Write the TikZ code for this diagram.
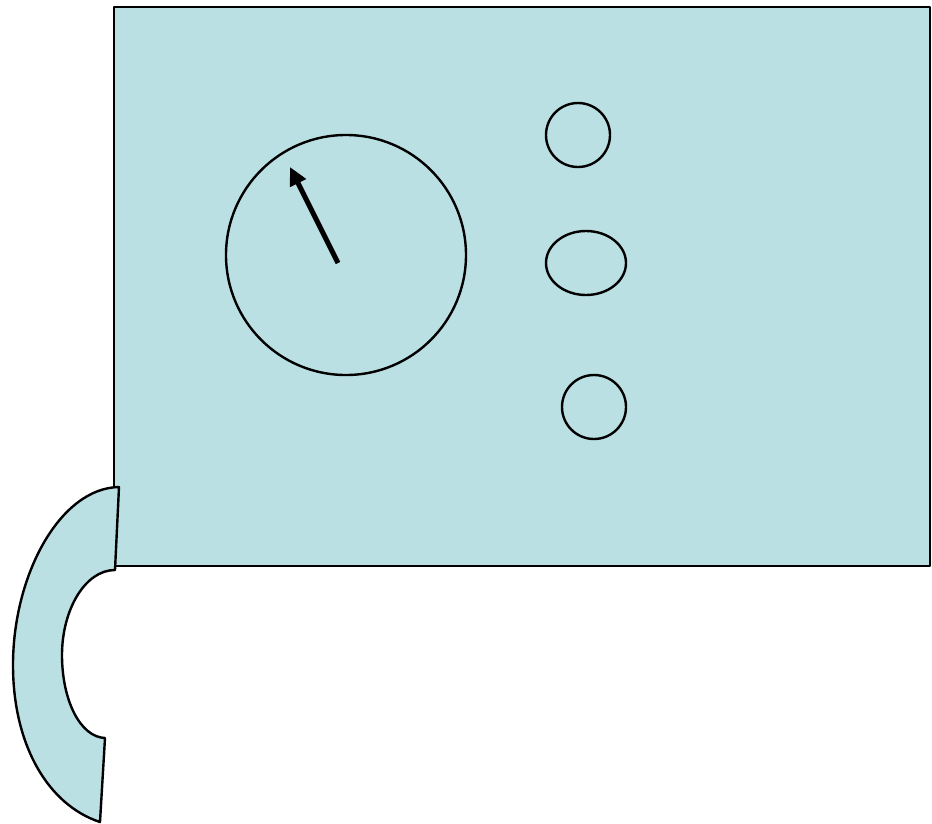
\documentclass[tikz,border=0pt]{standalone}
\usetikzlibrary{arrows.meta}
\definecolor{bodyfill}{HTML}{BBE0E3}
\begin{document}
\begin{tikzpicture}[x=1pt,y=-1pt,
  part/.style={draw=black,line width=2.4pt,fill=bodyfill,line join=round},
  knob/.style={draw=black,line width=2.4pt}]
\useasboundingbox (0,0) rectangle (932,823);
% main body
\draw[part] (114,7) rectangle (930,566);
% handset
\draw[part] (119,487) -- (115,570)
  .. controls (85,570) and (62,610) .. (62,655)
  .. controls (62,700) and (80,737) .. (105,738)
  -- (100,822)
  .. controls (48,805) and (13,745) .. (13,665)
  .. controls (13,575) and (60,488) .. (119,487) -- cycle;
% dial
\draw[knob] (346,255) circle[radius=120];
\coordinate (hubc) at (338,263);
\coordinate (tipc) at (290,167);
\draw[line width=5pt,-{Triangle[length=18pt,width=17pt]}] (hubc) -- (tipc);
% buttons
\draw[knob] (578,135) circle[radius=32];
\draw[knob] (586,263) ellipse[x radius=40,y radius=32];
\draw[knob] (594,407) circle[radius=32];
\end{tikzpicture}
\end{document}
